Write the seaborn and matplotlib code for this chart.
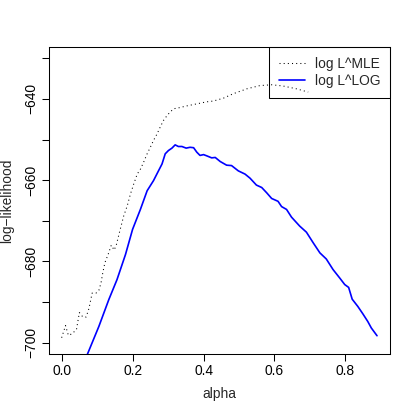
import numpy as np
import pandas as pd
import matplotlib
matplotlib.use("Agg")
import matplotlib.pyplot as plt
import matplotlib.ticker as mticker
import seaborn as sns

# values
alpha_mle = [0.000, 0.011, 0.019, 0.030, 0.042, 0.050, 0.060, 0.069, 0.077, 0.086,
             0.097, 0.105, 0.111, 0.116, 0.122, 0.131, 0.140, 0.148, 0.154, 0.164,
             0.175, 0.185, 0.194, 0.203, 0.213, 0.222, 0.231, 0.241, 0.250, 0.259,
             0.269, 0.278, 0.287, 0.297, 0.306, 0.316, 0.329, 0.353, 0.381, 0.409,
             0.428, 0.456, 0.484, 0.522, 0.559, 0.592, 0.624, 0.662, 0.695]
loglik_mle = [-698.8, -695.8, -698.2, -697.8, -696.7, -692.6, -693.7, -693.7, -691.6, -687.8,
              -687.8, -687.1, -685.3, -682.8, -680.3, -678.3, -676.0, -677.2, -676.0, -672.5,
              -668.8, -666.3, -663.4, -661.0, -658.5, -657.3, -655.6, -653.5, -651.9, -650.2,
              -648.6, -646.9, -645.3, -644.1, -643.2, -642.4, -642.2, -641.7, -641.2, -640.7,
              -640.5, -639.8, -638.7, -637.5, -636.7, -636.5, -636.8, -637.5, -638.3]

alpha_log = [0.050, 0.072, 0.105, 0.133, 0.156, 0.180, 0.200, 0.222, 0.241, 0.259,
             0.273, 0.283, 0.292, 0.301, 0.311, 0.320, 0.329, 0.339, 0.351, 0.362,
             0.372, 0.381, 0.390, 0.400, 0.409, 0.423, 0.433, 0.447, 0.465, 0.479,
             0.498, 0.517, 0.531, 0.549, 0.564, 0.578, 0.592, 0.610, 0.620, 0.634,
             0.648, 0.671, 0.690, 0.709, 0.728, 0.746, 0.765, 0.784, 0.798, 0.809,
             0.819, 0.835, 0.849, 0.863, 0.873, 0.889]
loglik_log = [-709.0, -703.0, -696.0, -689.4, -684.5, -678.3, -672.1, -667.2, -662.6, -660.1,
              -657.7, -656.0, -653.5, -652.7, -652.1, -651.3, -651.7, -651.7, -652.1, -651.9,
              -652.0, -653.1, -653.9, -653.7, -654.0, -654.5, -654.4, -655.4, -656.3, -656.4,
              -657.7, -658.5, -659.5, -661.2, -661.8, -663.1, -664.5, -665.2, -666.5, -667.2,
              -669.1, -671.3, -672.8, -675.4, -677.9, -679.4, -682.0, -684.1, -685.7, -686.4,
              -689.3, -691.1, -692.9, -694.8, -696.4, -698.3]

y_ticks = [-700, -690, -680, -670, -660, -650, -640, -630]
y_ticklabels = ["\u2212700", "", "\u2212680", "", "\u2212660", "", "\u2212640", ""]
x_ticks = [0.0, 0.2, 0.4, 0.6, 0.8]
x_ticklabels = ["0.0", "0.2", "0.4", "0.6", "0.8"]

sns.set_style("white")
plt.rcParams['font.family'] = ['Liberation Sans', 'DejaVu Sans']
fs = 9.9

fig = plt.figure(figsize=(4.15, 4.15), dpi=100)
ax = fig.add_axes([49/415, 1 - 354/415, (390 - 49)/415, (354 - 47)/415])

sns.lineplot(x=alpha_mle, y=loglik_mle, ax=ax, color="black", lw=0.75,
             linestyle=(0, (1, 3)), sort=False, estimator=None, label="log L^MLE")
sns.lineplot(x=alpha_log, y=loglik_log, ax=ax, color="#0000FF", lw=1.2,
             sort=False, estimator=None, label="log L^LOG")

# R style 4% padding around data range
x0, x1 = 0.0, 0.89
y0, y1 = -700.0, -630.0
ax.set_xlim(x0 - 0.04*(x1 - x0), x1 + 0.04*(x1 - x0))
ax.set_ylim(y0 - 0.04*(y1 - y0), y1 + 0.04*(y1 - y0))

ax.set_xticks(x_ticks)
ax.set_xticklabels(x_ticklabels)
ax.set_yticks(y_ticks)
ax.yaxis.set_major_formatter(mticker.FixedFormatter(y_ticklabels))

ax.tick_params(axis="both", direction="out", length=5, width=0.75, color="black",
               labelsize=fs, labelcolor="black", left=True, bottom=True)
ax.tick_params(axis="x", pad=2.2)
ax.tick_params(axis="y", pad=2.5)
for lab in ax.get_yticklabels():
    lab.set_rotation(90)
    lab.set_va("center")
for s in ax.spines.values():
    s.set_color("black")
    s.set_linewidth(0.75)
    s.set_visible(True)

ax.set_xlabel("alpha", fontsize=fs)
ax.set_ylabel("log\u2212likelihood", fontsize=fs)
ax.xaxis.set_label_coords(0.5, -0.1075)
ax.yaxis.set_label_coords(-0.101, 0.5)

leg = ax.legend(loc="upper right", bbox_to_anchor=(1.0, 1.0), borderaxespad=0,
                fontsize=fs, frameon=True, fancybox=False, framealpha=1,
                handlelength=1.9, handletextpad=0.7, borderpad=0.72,
                labelspacing=0.2)
leg.get_frame().set_facecolor("none")
leg.get_frame().set_edgecolor("black")
leg.get_frame().set_linewidth(0.75)

fig.savefig("out.png", dpi=100)
